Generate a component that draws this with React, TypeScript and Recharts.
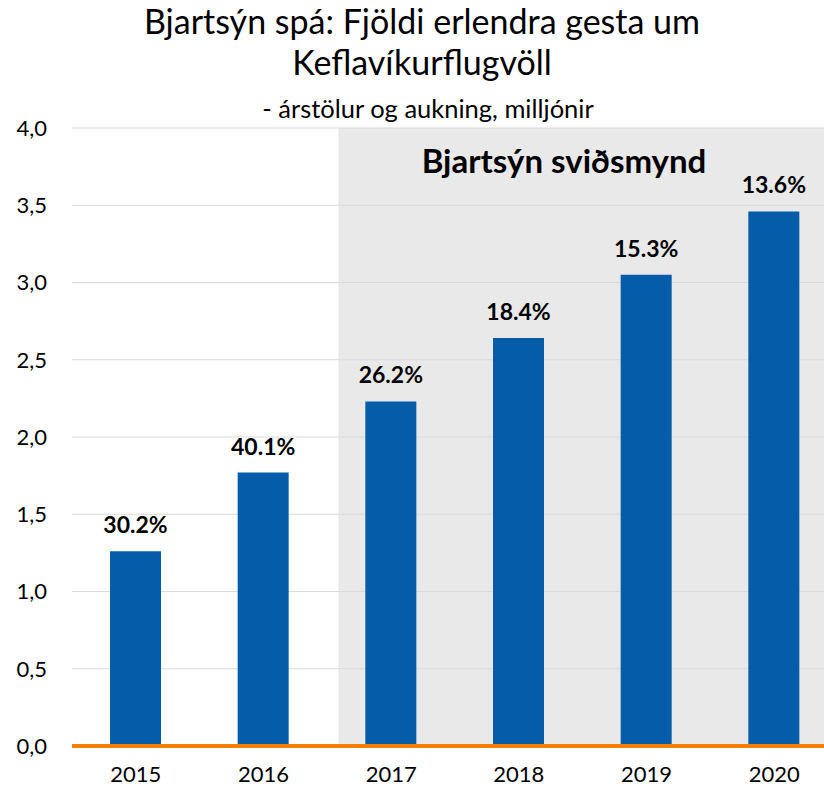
import React from 'react';
import { BarChart, Bar, XAxis, YAxis, CartesianGrid, ReferenceArea, LabelList } from 'recharts';

const years = ['2015', '2016', '2017', '2018', '2019', '2020'];
const visitors = [1.26, 1.77, 2.23, 2.64, 3.05, 3.46];
const growth = ['30.2%', '40.1%', '26.2%', '18.4%', '15.3%', '13.6%'];
const yTicks = [0, 0.5, 1, 1.5, 2, 2.5, 3, 3.5, 4];

const data = years.map((y, i) => ({ year: y, value: visitors[i], growth: growth[i] }));

const FONT = 'Lato, "Noto Sans", sans-serif';

const fmt = (v: number) => v.toFixed(1).replace('.', ',');

const AreaShape = (props: any) => {
  const { x, y, width, height } = props;
  const shift = 11;
  return <rect x={x + shift} y={y} width={width - shift + 40} height={height} fill="#E9E9E9" />;
};

export default function App() {
  return (
    <div style={{ position: 'fixed', left: 0, top: 0, width: 824, height: 793, overflow: 'hidden', background: '#fff', fontFamily: FONT }}>
      <BarChart width={840} height={793} data={data} margin={{ top: 128, right: 2, left: 0, bottom: 0 }}>
        <ReferenceArea x1="2017" x2="2020" shape={AreaShape} zIndex={-200} ifOverflow="visible" />
        <CartesianGrid horizontal={true} vertical={false} stroke="#D9D9D9" strokeWidth={1.2} />
        <XAxis
          dataKey="year"
          height={47}
          axisLine={{ stroke: '#F77F00', strokeWidth: 4 }}
          tickLine={false}
          tickSize={0}
          tickMargin={20}
          tick={{ fill: '#000', fontSize: 22, fontFamily: FONT }}
        />
        <YAxis
          width={72}
          domain={[0, 4]}
          ticks={yTicks}
          tickFormatter={fmt}
          axisLine={false}
          tickLine={false}
          tickSize={0}
          tickMargin={25}
          tick={{ fill: '#000', fontSize: 22, fontFamily: FONT }}
        />
        <Bar dataKey="value" fill="#055CA8" barSize={51} isAnimationActive={false}>
          <LabelList dataKey="growth" position="top" offset={18} style={{ fontSize: 23, fontWeight: 'bold', fill: '#000', fontFamily: FONT }} />
        </Bar>
      </BarChart>
      <div style={{ position: 'absolute', left: 0, top: 0, width: 844, textAlign: 'center', fontSize: 34, lineHeight: '41px', color: '#000' }}>
        Bjartsýn spá: Fjöldi erlendra gesta um
        <br />
        Keflavíkurflugvöll
      </div>
      <div style={{ position: 'absolute', left: 0, top: 93, width: 856, textAlign: 'center', fontSize: 25.5, lineHeight: '30px', color: '#000' }}>
        - árstölur og aukning, milljónir
      </div>
      <div style={{ position: 'absolute', left: 364, top: 140, width: 400, textAlign: 'center', fontSize: 33, fontWeight: 'bold', lineHeight: '40px', color: '#000' }}>
        Bjartsýn sviðsmynd
      </div>
    </div>
  );
}
